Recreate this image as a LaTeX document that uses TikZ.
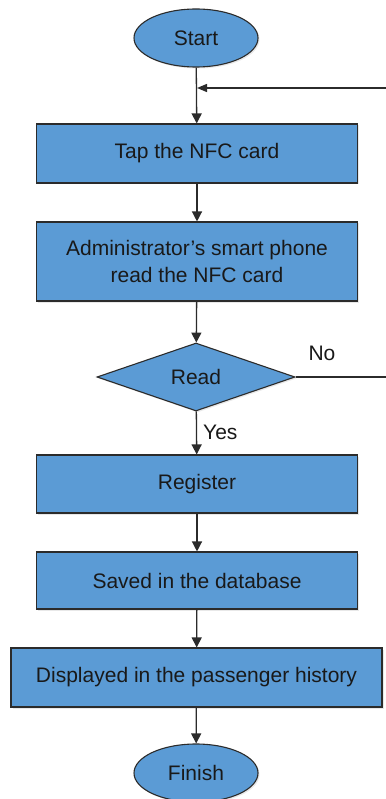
\documentclass[tikz,border=0pt]{standalone}
\usepackage{fontspec}
\setmainfont{Liberation Sans}
\usetikzlibrary{shapes.geometric,arrows.meta,shadows}
\definecolor{boxblue}{HTML}{5B9BD5}
\definecolor{edge}{HTML}{2B2B2B}
\tikzset{
  base/.style={draw=edge, line width=1.1pt, fill=boxblue, inner sep=0pt,
    font=\fontsize{21}{27}\selectfont, text=black!90, align=center,
    drop shadow={opacity=0.18, shadow xshift=1.5pt, shadow yshift=-1.5pt}},
  procbox/.style={base, rectangle, minimum height=59pt},
  terminal/.style={base, ellipse, minimum width=124pt, minimum height=58pt},
  decision/.style={base, diamond, minimum width=198pt, minimum height=68pt},
  flow/.style={draw=edge, line width=1.3pt, -{Triangle[width=10pt,length=10pt]}},
  lbl/.style={font=\fontsize{21}{24}\selectfont, text=black!90, inner sep=0pt}
}
\begin{document}
\begin{tikzpicture}[x=1pt,y=-1pt]
  \useasboundingbox (0,0) rectangle (385,799);
  \fill[white] (0,0) rectangle (385,799);

  \node[terminal] (start) at (196,38) {Start};
  \node[procbox, minimum width=321pt] (tap) at (197,153.5) {Tap the NFC card};
  \node[procbox, minimum width=321pt, minimum height=79pt] (admin) at (197,261.5)
    {Administrator’s smart phone\\read the NFC card};
  \node[decision] (read) at (196,377) {Read};
  \node[procbox, minimum width=321pt, minimum height=58pt] (reg) at (197,484) {Register};
  \node[procbox, minimum width=321pt, minimum height=57pt] (saved) at (197,580.5) {Saved in the database};
  \node[procbox, minimum width=371pt] (disp) at (196.5,677.5) {Displayed in the passenger history};
  \node[terminal] (finish) at (196,773) {Finish};

  \node[lbl] (no) at (322,353) {No};
  \node[lbl, anchor=west] (yes) at (203,432) {Yes};

  % main sequence
  \draw[flow] (start) -- (tap);
  \draw[flow] (tap) -- (admin);
  \draw[flow] (admin) -- (read);
  \draw[flow] (read) -- (reg);
  \draw[flow] (reg) -- (saved);
  \draw[flow] (saved) -- (disp);
  \draw[flow] (disp) -- (finish);

  % "No" branch returns above the tap step
  \coordinate (loopR) at (392,377);
  \coordinate (loopT) at (392,88);
  \coordinate (join) at (197,88);
  \draw[flow, -{Triangle[width=8pt,length=10pt]}] (read.east) -- (loopR) -- (loopT) -- (join);
\end{tikzpicture}
\end{document}
